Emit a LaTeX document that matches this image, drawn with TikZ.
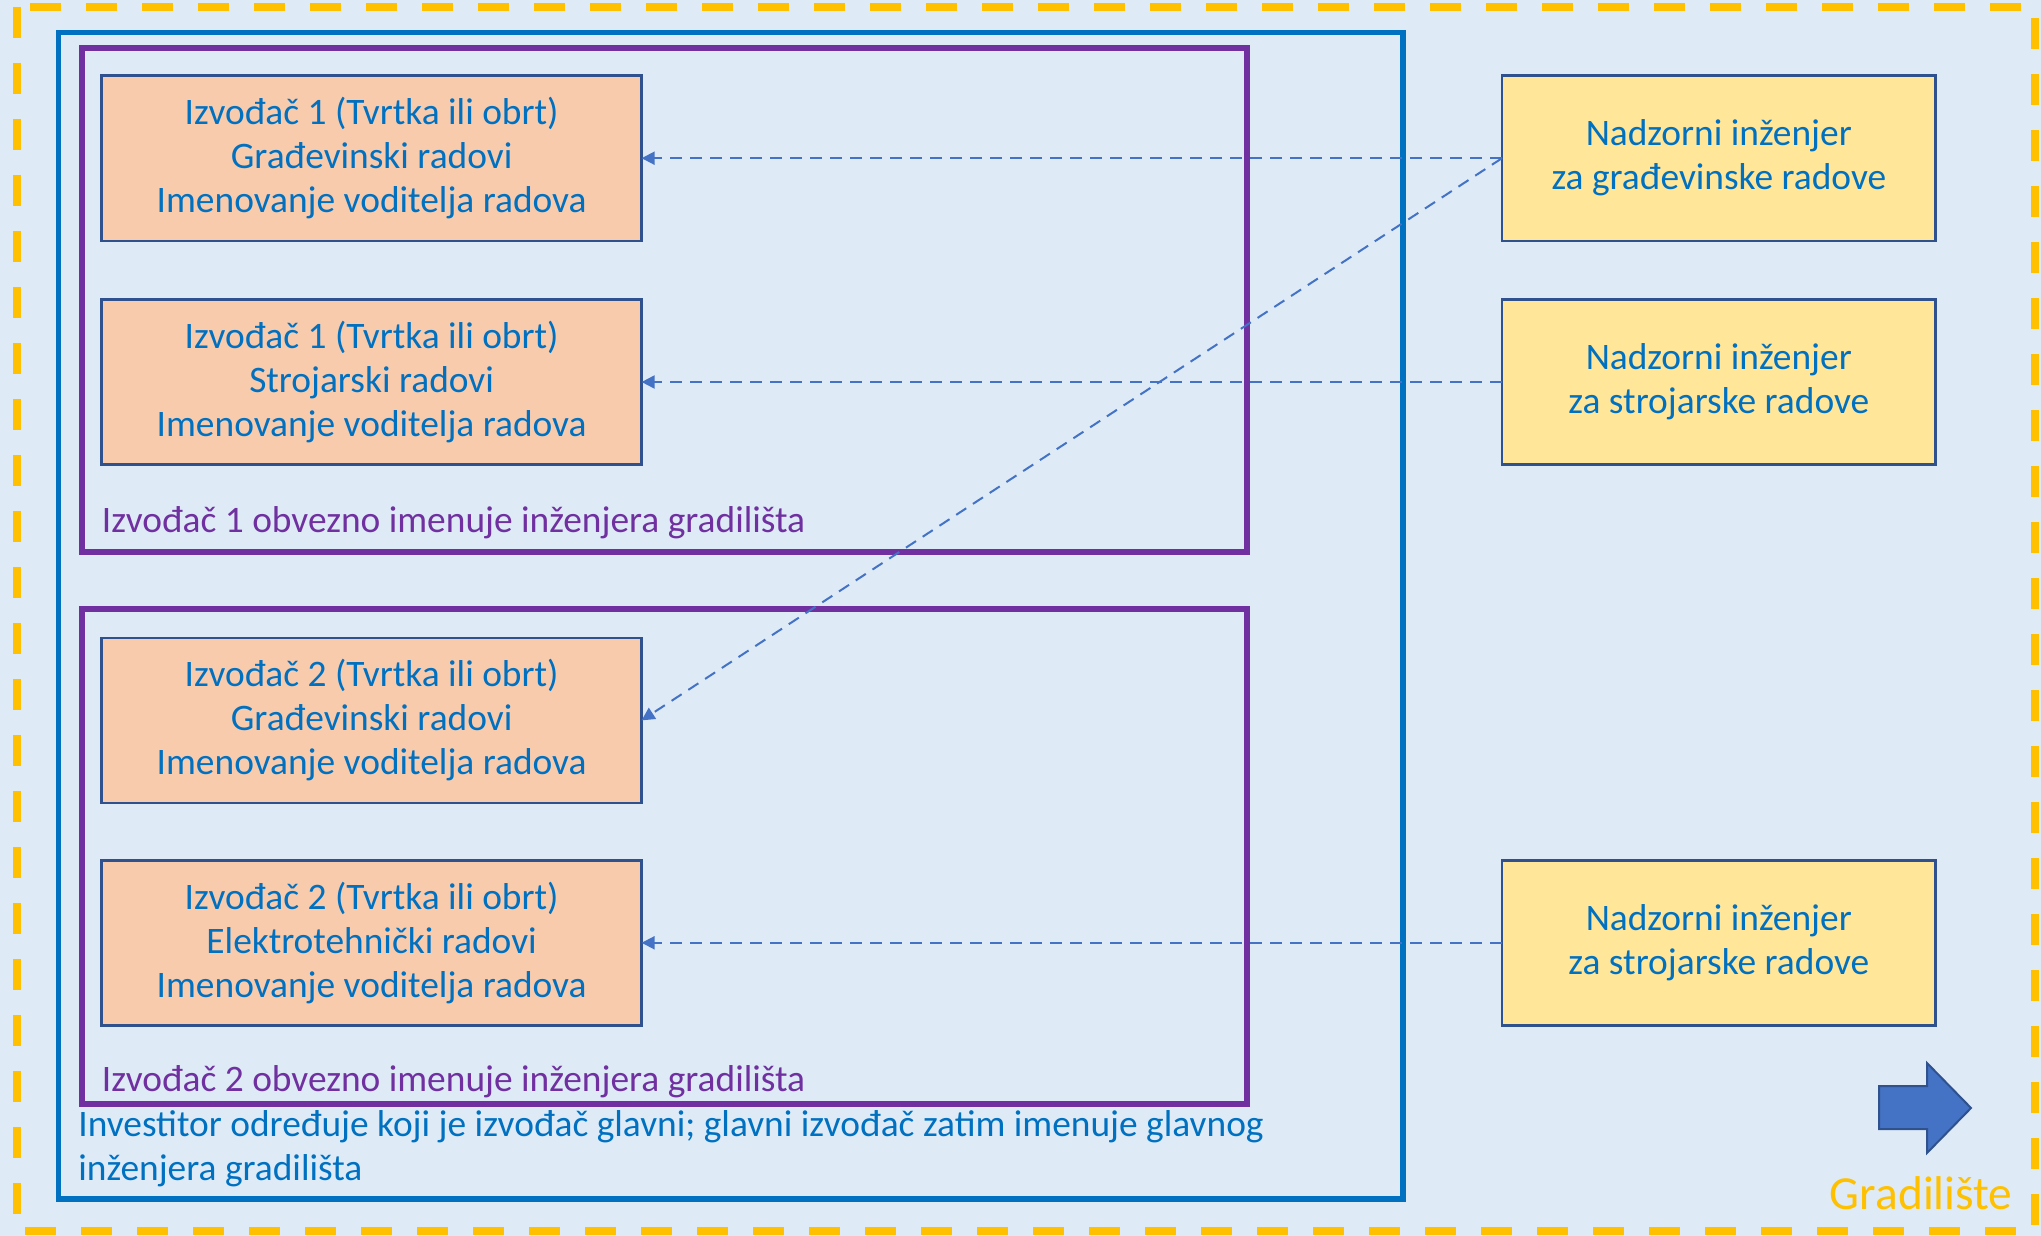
\documentclass[tikz,border=0pt]{standalone}
\usepackage{fontspec}
\setmainfont{Carlito}
\usepackage{tikz}
\usetikzlibrary{positioning}
\usetikzlibrary{arrows.meta}
\usepackage{xcolor}
\definecolor{pozadina}{HTML}{DEEBF7}
\definecolor{rub}{HTML}{2F528F}
\definecolor{narancasta}{HTML}{F8CBAD}
\definecolor{zuta}{HTML}{FFE699}
\definecolor{plava}{HTML}{0070C0}
\definecolor{ljubicasta}{HTML}{7030A0}
\definecolor{zlatna}{HTML}{FFC000}
\definecolor{strelica}{HTML}{4472C4}

\begin{document}
\begin{tikzpicture}[
    x=0.5pt, y=-0.5pt,
    node distance=29.3pt,
    font=\fontsize{18.7}{22}\selectfont,
    izvodjac/.style={rectangle, draw=rub, fill=narancasta, line width=1.3pt, text=plava, align=center,
    minimum width=270pt, minimum height=82.6pt, outer sep=0pt},
    nadzor/.style={izvodjac, fill=zuta, minimum width=216.8pt},
    veza/.style={-{Triangle[length=6.5pt,width=6.5pt]}, draw=strelica, line width=1pt, dash pattern=on 6pt off 4pt},
    gradiliste/.style={draw=zlatna, line width=3.6pt, dash pattern=on 15.5pt off 12.5pt},
    investitor/.style={draw=plava, line width=2.8pt},
    grupa/.style={draw=ljubicasta, line width=2.75pt},
    oznaka/.style={anchor=west, inner sep=0pt, text=ljubicasta}
    ]

\fill[pozadina] (0,0) rectangle (2041,1236);
\useasboundingbox (0,0) rectangle (2041,1236);

%Frames
\draw[gradiliste] (17,7) rectangle (2035,1231);
\draw[investitor] (58.6,32.5) rectangle (1403,1199);
\node[anchor=west, inner sep=0pt, text=plava, align=left] (inv) at (78,1149)
    {Investitor određuje koji je izvođač glavni; glavni izvođač zatim imenuje glavnog\\inženjera gradilišta};
\draw[grupa] (82,48) rectangle (1247,552);
\draw[grupa] (82,609) rectangle (1247,1104);
\node[oznaka] (grupa1) at (101.5,523) {Izvođač 1 obvezno imenuje inženjera gradilišta};
\node[oznaka] (grupa2) at (101.5,1082) {Izvođač 2 obvezno imenuje inženjera gradilišta};

%Izvodjac 1
\node[izvodjac] (iz1g) at (371.6,158.2) {Izvođač 1 (Tvrtka ili obrt)\\Građevinski radovi\\Imenovanje voditelja radova};
\node[izvodjac, below=of iz1g] (iz1s) {Izvođač 1 (Tvrtka ili obrt)\\Strojarski radovi\\Imenovanje voditelja radova};
%Izvodjac 2
\node[izvodjac, below=86.6pt of iz1s] (iz2g) {Izvođač 2 (Tvrtka ili obrt)\\Građevinski radovi\\Imenovanje voditelja radova};
\node[izvodjac, below=28.6pt of iz2g] (iz2e) {Izvođač 2 (Tvrtka ili obrt)\\Elektrotehnički radovi\\Imenovanje voditelja radova};

%Nadzor
\node[nadzor] (nzg) at (1718.8,158.2) {Nadzorni inženjer\\za građevinske radove};
\node[nadzor, below=of nzg] (nzs) {Nadzorni inženjer\\za strojarske radove};
\node[nadzor] (nze) at (nzs |- iz2e) {Nadzorni inženjer\\za strojarske radove};

\draw[veza] (nzg.west) -- (iz1g.east);
\draw[veza] (nzg.west) -- (iz2g.east);
\draw[veza] (nzs.west) -- (iz1s.east);
\draw[veza] (nze.west) -- (iz2e.east);

%Gradiliste
\draw[fill=strelica, draw=rub, line width=1pt] (1879,1086) -- (1927,1086) -- (1927,1063) -- (1971,1108)
    -- (1927,1153) -- (1927,1129) -- (1879,1129) -- cycle;
\node[anchor=east, inner sep=0pt, text=zlatna, font=\fontsize{23.7}{28}\selectfont] (grad) at (2013,1193) {Gradilište};
\end{tikzpicture}
\end{document}
